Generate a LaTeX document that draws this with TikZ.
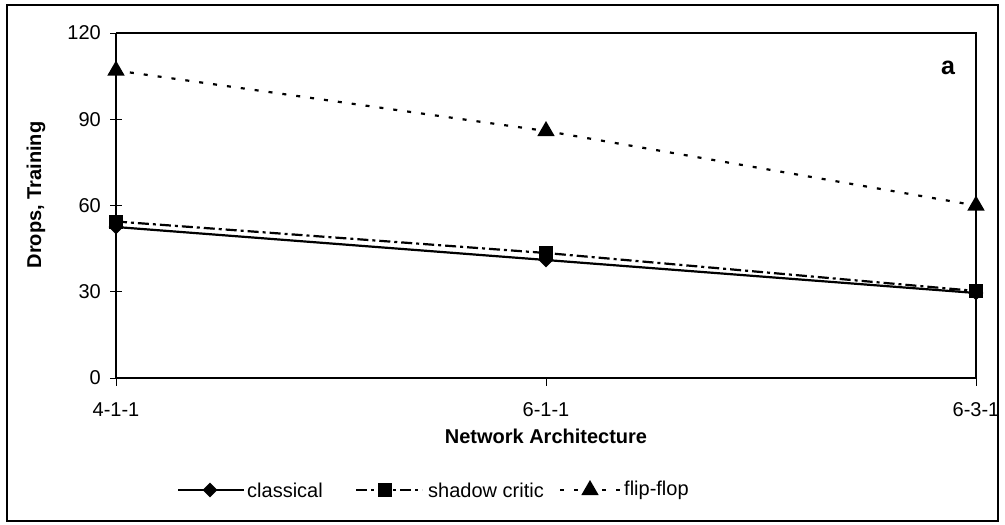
\documentclass[tikz,border=0pt]{standalone}
\usepackage{fontspec}
\setmainfont{Liberation Sans}
\usetikzlibrary{shapes.geometric}
\begin{document}
\begin{tikzpicture}[x=1pt,y=-1pt,
  lbl/.style={font=\fontsize{20}{23}\selectfont, inner sep=0pt},
  blbl/.style={font=\fontsize{20}{23}\selectfont\bfseries, inner sep=0pt},
  dmk/.style={diamond, fill=black, inner sep=0pt, minimum width=15pt, minimum height=15pt},
  smk/.style={rectangle, fill=black, inner sep=0pt, minimum size=14pt},
  tmk/.style={regular polygon, regular polygon sides=3, fill=black, inner sep=0pt, minimum size=20pt},
  classl/.style={line width=2.2pt},
  shadl/.style={line width=2.2pt, dash pattern=on 11pt off 4pt on 3pt off 4pt},
  flipl/.style={line width=2.2pt, dash pattern=on 4pt off 10pt},
  axisl/.style={line width=2.2pt},
  framel/.style={line width=1.6pt},
]
\useasboundingbox (0,0) rectangle (1005,525);
\draw[framel] (7,5) rectangle (998,521);

% plot area
\coordinate (o) at (116,378);
\coordinate (tl) at (116,33);
\coordinate (tr) at (976,33);
\coordinate (br) at (976,378);
\draw[framel] (tl) -- (tr) -- (br);
\draw[axisl] (tl) -- (o) -- (br);

% y ticks and labels
\foreach \v/\y in {0/378,30/291.75,60/205.5,90/119.25,120/33} {
  \draw[line width=1pt] (110,\y) -- (122,\y);
  \node[lbl, anchor=east] (yl\v) at (101,\y) {\v};
}
% x ticks and labels
\foreach \x/\t [count=\i] in {116/4-1-1,546/6-1-1,976/6-3-1} {
  \draw[line width=1pt] (\x,378) -- (\x,386);
  \node[lbl] (xl\i) at (\x,410) {\t};
}
\node[blbl] (xt) at (546,436) {Network Architecture};
\node[blbl, rotate=90] (yt) at (36,195) {Drops, Training};
\node[inner sep=0pt, font=\fontsize{25}{28}\selectfont\bfseries] (pa) at (948,68) {a};

% data points
\coordinate (c1) at (116,227);
\coordinate (c2) at (546,260);
\coordinate (c3) at (976,293);
\coordinate (s1) at (116,221.5);
\coordinate (s2) at (546,253);
\coordinate (s3) at (976,291);
\coordinate (f1) at (116,70.5);
\coordinate (f2) at (546,131);
\coordinate (f3) at (976,205.5);

\draw[classl] (c1) -- (c2) -- (c3);
\node[dmk] (mc1) at (c1) {};
\node[dmk] (mc2) at (c2) {};
\node[dmk] (mc3) at (c3) {};
\draw[shadl] (s1) -- (s2) -- (s3);
\node[smk] (ms1) at (s1) {};
\node[smk] (ms2) at (s2) {};
\node[smk] (ms3) at (s3) {};
\draw[flipl] (f1) -- (f2) -- (f3);
\node[tmk] (mf1) at (f1) {};
\node[tmk] (mf2) at (f2) {};
\node[tmk] (mf3) at (f3) {};

% legend
\coordinate (la1) at (178,490);
\coordinate (la2) at (244,490);
\draw[classl] (la1) -- (la2);
\node[dmk] (lm1) at (210,490) {};
\node[lbl, anchor=west] (lt1) at (247,490) {classical};

\coordinate (lb1) at (356,490);
\coordinate (lb2) at (422,490);
\draw[shadl] (lb1) -- (lb2);
\node[smk] (lm2) at (385,490) {};
\node[lbl, anchor=west] (lt2) at (428,490) {shadow critic};

\coordinate (lc1) at (560,490);
\coordinate (lc2) at (622,490);
\draw[flipl] (lc1) -- (lc2);
\node[tmk] (lm3) at (590,490) {};
\node[lbl, anchor=west] (lt3) at (624,490) {flip-flop};
\end{tikzpicture}
\end{document}
